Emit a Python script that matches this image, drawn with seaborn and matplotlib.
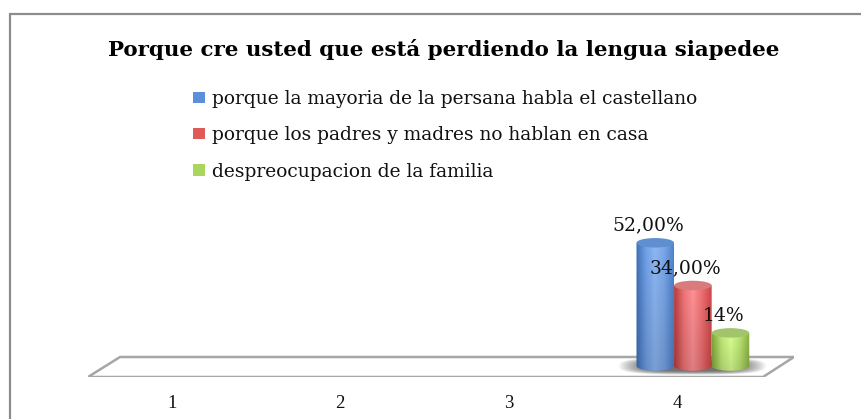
"""
Porque cre usted que esta perdiendo la lengua siapedee - 3D style cylinders
"""

import numpy as np
import pandas as pd
import matplotlib
matplotlib.use("Agg")
import matplotlib.pyplot as plt
import seaborn as sns
from matplotlib.colors import LinearSegmentedColormap
from matplotlib.lines import Line2D
from matplotlib.patches import Ellipse, PathPatch, Polygon, Rectangle
from matplotlib.path import Path

categories = ["1", "2", "3", "4"]
mayoria = [np.nan, np.nan, np.nan, 52]
padres = [np.nan, np.nan, np.nan, 34]
familia = [np.nan, np.nan, np.nan, 14]
series_names = [
    "porque la mayoria de la persana habla el castellano",
    "porque los padres y madres no hablan en casa",
    "despreocupacion de la familia",
]
value_labels = ["52,00%", "34,00%", "14%"]
title = "Porque cre usted que está perdiendo la lengua siapedee"

# legend colour, then side / centre colours of the cylinder and its top
colors = ["#5b8fd9", "#e05a5a", "#a9d65c"]
sides = [["#3f6fb5", "#6f9fe6", "#8db8f5", "#7aa6e8", "#4f82cc"],
         ["#b83c3c", "#ee7275", "#ff9296", "#ee6e70", "#cf4646"],
         ["#7fa83a", "#bfe777", "#d8ff90", "#b9e270", "#86b040"]]
tops = ["#5f8fd0", "#d97a7c", "#a2c46a"]

sns.set_theme(style="white")
plt.rcParams["font.family"] = ["DejaVu Serif", "Liberation Serif"]

df = pd.DataFrame({"cat": categories * 3,
                   "serie": np.repeat(series_names, 4),
                   "valor": mayoria + padres + familia})

W, H = 862, 419
fig = plt.figure(figsize=(W / 100, H / 100), dpi=100)

# plot area in pixels of the picture
left, right, top, bottom = 88, 794, 225, 377
ax = fig.add_axes([left / W, 1 - bottom / H, (right - left) / W, (bottom - top) / H])
sns.barplot(data=df, x="cat", y="valor", hue="serie", palette=colors, width=0.67,
            gap=0, ax=ax, legend=False, errorbar=None)
xlim = (-0.499, 3.696)
ylim = (-4.6, 59.5)
ax.set_xlim(xlim)
ax.set_ylim(ylim)
ax.set_xlabel("")
ax.set_ylabel("")
ax.set_yticks([])
ax.patch.set_alpha(0)
sns.despine(ax=ax, left=True, bottom=True)
ax.tick_params(axis="x", length=0, pad=13, labelsize=12, labelcolor="#111111")
for tick in ax.get_xticklabels():
    tick.set_family("Liberation Serif")
    tick.set_fontsize(13.5)

# floor of the chart
floor = [(0, 0), (1 - 31 / 706, 0), (1, 20 / 152), (32 / 706, 20 / 152)]
ax.add_patch(Polygon(floor, closed=True, transform=ax.transAxes, fc="white",
                     ec="#a6a6a6", lw=1.8, zorder=0.5))

bars = [b for b in ax.patches if isinstance(b, Rectangle) and np.isfinite(b.get_height())
        and b.get_height() > 0]
bars = sorted(bars, key=lambda b: b.get_x())
ell_h = 4.0
shift = 16 / 168.3  # the 3D bars sit to the right of their tick label

# soft shadow under the group of bars
x0 = bars[0].get_x() + shift
x1 = bars[-1].get_x() + bars[-1].get_width() + shift
gx, gy = np.meshgrid(np.linspace(-1, 1, 200), np.linspace(-1, 1, 50))
shadow = np.clip(1.2 - (np.abs(gx) ** 3 + np.abs(gy) ** 3) * 1.2, 0, 1)
shadow_img = np.zeros(shadow.shape + (4,))
shadow_img[..., :3] = 0.45
shadow_img[..., 3] = shadow
ax.imshow(shadow_img, extent=(x0 - 0.11, x1 + 0.1, -3.9, 3.6), aspect="auto", zorder=0.8)

for bar, side, top_col, label in zip(bars, sides, tops, value_labels):
    x = bar.get_x() + shift
    w = bar.get_width()
    h = bar.get_height()
    cx = x + w / 2
    bar.set_visible(False)
    # cylinder body: sides down to the lower half of the base ellipse
    t = np.linspace(np.pi, 2 * np.pi, 40)
    verts = [(x, h)] + [(cx + w / 2 * np.cos(a), ell_h / 2 * np.sin(a)) for a in t] + [(x + w, h), (x, h)]
    codes = [Path.MOVETO] + [Path.LINETO] * (len(verts) - 2) + [Path.CLOSEPOLY]
    clip = PathPatch(Path(verts, codes), transform=ax.transData, fc="none", ec="none")
    ax.add_patch(clip)
    cmap = LinearSegmentedColormap.from_list("cyl", side)
    grad = cmap(np.linspace(0, 1, 64))[None, :, :].repeat(64, axis=0)
    # the cylinders get deeper in colour towards the floor
    grad[..., :3] *= np.linspace(1.0, 0.86, 64)[:, None, None]
    im = ax.imshow(grad, extent=(x, x + w, -ell_h, h), aspect="auto", zorder=2)
    im.set_clip_path(clip)
    ax.add_patch(Ellipse((cx, h), w, ell_h, fc=top_col, ec="none", zorder=3))
    ax.annotate(label, (cx, h), xytext=(-5, 6), textcoords="offset points", ha="center",
                va="bottom", fontsize=13.5, color="#111111", zorder=4, annotation_clip=False)

ax.set_xlim(xlim)
ax.set_ylim(ylim)

# outer frame of the chart: only left and top show, the picture cuts the rest
frame = "#8c8c8c"
fig.add_artist(Line2D([10 / W, 10 / W, 1], [0, 1 - 14 / H, 1 - 14 / H], transform=fig.transFigure,
                      color=frame, lw=1.6, solid_joinstyle="miter"))

fig.text(443.5 / W, 1 - 50 / H, title, ha="center", va="center", fontsize=15.4,
         fontweight="bold", color="black")

handles = [Rectangle((0, 0), 1, 1, fc=c, ec="none") for c in colors]
fig.legend(handles, series_names, loc="upper left", bbox_to_anchor=(193 / W, 1 - 90 / H),
           frameon=False, fontsize=13.45, labelspacing=0.98, handlelength=0.65, handleheight=0.55,
           handletextpad=0.38, labelcolor="#111111", borderpad=0, borderaxespad=0)

fig.savefig("out.png", dpi=100)
